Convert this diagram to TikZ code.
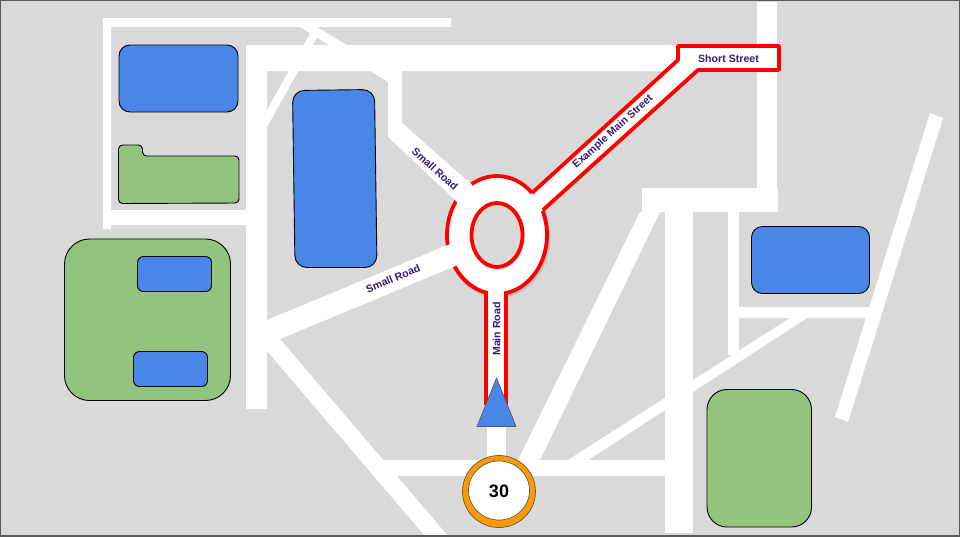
\documentclass[tikz,border=0pt]{standalone}
\usepackage{fontspec}
\setmainfont{Liberation Sans}
\definecolor{bggray}{HTML}{D9D9D9}
\definecolor{bblue}{HTML}{4A86E8}
\definecolor{bgreen}{HTML}{93C47D}
\definecolor{lbl}{HTML}{351C75}
\definecolor{signor}{HTML}{FF9900}
\definecolor{edgegray}{HTML}{595959}
\tikzset{
  road/.style={fill=white,draw=none},
  building/.style={draw=black,line width=0.9pt,line join=round},
  blueb/.style={building,fill=bblue},
  greenb/.style={building,fill=bgreen},
  redline/.style={draw=red,line width=3.8pt,line join=round},
  roadlabel/.style={text=lbl,font=\fontsize{10.6}{12}\selectfont\bfseries,inner sep=0pt}
}
\begin{document}
\begin{tikzpicture}[x=1pt,y=-1pt]
\useasboundingbox (0,0) rectangle (960,536);
\fill[bggray] (0,0) rectangle (960,536);
% plain roads
\fill[road] (103,18) -- (451,18) -- (451,27) -- (111,27) -- (111,210) -- (246,210) -- (246,225) -- (111,225) -- (111,229) -- (103,229) -- cycle;
\fill[road] (246,45) -- (680,45) -- (680,71) -- (267,71) -- (267,409) -- (246,409) -- cycle;
\fill[road] (300,27) -- (317,27) -- (395,74) -- (388,82) -- cycle;
\fill[road] (312,30) -- (319,34) -- (267,127) -- (260,125) -- (267,110) -- cycle;
\fill[road] (388,71) -- (402,71) -- (402,123) -- (472,185) -- (455,200) -- (388,137) -- cycle;
\fill[road] (267,320) -- (445,246) -- (453,267) -- (280,339) -- (448,536) -- (425,536) -- (267,351) -- cycle;
\fill[road] (383,460) -- (666,460) -- (666,476) -- (383,476) -- cycle;
\fill[road] (487,400) -- (506,400) -- (506,462) -- (487,462) -- cycle;
\fill[road] (517,462) -- (640,212) -- (642,212) -- (642,188) -- (778,188) -- (778,212) -- (660,212) -- (539,462) -- cycle;
\fill[road] (665,205) -- (693,205) -- (693,533) -- (665,533) -- cycle;
\fill[road] (728,205) -- (739,205) -- (739,355) -- (728,355) -- cycle;
\fill[road] (757,2) -- (777,2) -- (777,190) -- (757,190) -- cycle;
\fill[road] (735,307) -- (870,307) -- (868,318) -- (735,318) -- cycle;
\fill[road] (568,460) -- (790,318) -- (807,318) -- (585,462) -- cycle;
\fill[road] (930,113) -- (943,118) -- (848,422) -- (835,417) -- cycle;
% highlighted route
\fill[black,opacity=0.12] (498,236.5) ellipse [x radius=52.5,y radius=61.5];
\draw[redline,fill=white] (497,235) ellipse [x radius=50,y radius=59];
\fill[road] (472,185) -- (468,180) -- (450,195) -- (455,200) -- (472,218) -- (486,205) -- cycle;
\fill[road] (445,246) -- (441,247) -- (448,269) -- (453,267) -- (475,258) -- (470,238) -- cycle;
\fill[road] (488,280) rectangle (504,300);
\fill[road] (532,193) -- (678,60) -- (678,46) -- (779,46) -- (779,70) -- (698,70) -- (543,210) -- (525,225) -- (515,208) -- cycle;
\fill[road] (486,292) rectangle (506,405);
\draw[redline] (532,193) -- (678,60) -- (678,46) -- (779,46) -- (779,70) -- (698,70) -- (543,210);
\draw[redline] (486,292) -- (486,405);
\draw[redline] (506,292) -- (506,405);
\fill[black,opacity=0.12] (497.5,235.5) ellipse [x radius=27.5,y radius=34.5];
\draw[redline,fill=bggray] (497,235) ellipse [x radius=25.5,y radius=32];
% buildings
\draw[blueb,rounded corners=11pt] (119,45) rectangle (238,112);
\draw[greenb,rounded corners=4pt] (118.5,145) -- (142.5,145) -- (142.5,156) -- (239,156) -- (239,203) -- (118.5,203.5) -- cycle;
\draw[blueb,rounded corners=12pt] (292.5,90.5) -- (374.5,89.5) -- (377,267.5) -- (295,267.5) -- cycle;
\draw[greenb,rounded corners=25pt] (64.5,239) rectangle (230.5,400.5);
\draw[blueb,rounded corners=6pt] (137.5,256.5) rectangle (211.5,291.5);
\draw[blueb,rounded corners=6pt] (133.5,351.5) rectangle (207.5,386.5);
\draw[blueb,rounded corners=11pt] (751.5,226.5) rectangle (869.5,293.5);
\draw[greenb,rounded corners=20pt] (707,389.5) rectangle (811.5,527);
% marker and speed sign
\draw[fill=bblue,draw=edgegray,line width=0.7pt,line join=round] (496.5,378) -- (516,426.5) -- (477,426.5) -- cycle;
\draw[fill=signor,draw=edgegray,line width=0.7pt] (499,491.5) ellipse [x radius=36.5,y radius=36];
\draw[fill=white,draw=edgegray,line width=0.7pt] (499,490.5) ellipse [x radius=30.5,y radius=29.5];
\node[font=\fontsize{18}{20}\selectfont\bfseries,inner sep=0pt] (speed) at (499,491) {30};
% labels
\node[roadlabel] (short) at (728.5,58.5) {Short Street};
\node[roadlabel,rotate=42] (example) at (613,132) {Example Main Street};
\node[roadlabel,rotate=-42] (smalla) at (435,169) {Small Road};
\node[roadlabel,rotate=22.5] (smallb) at (393,278.5) {Small Road};
\node[roadlabel,rotate=90] (mainr) at (496.5,329) {Main Road};
% frame
\draw[edgegray,line width=1.2pt] (0,0) rectangle (960,536);
\end{tikzpicture}
\end{document}
